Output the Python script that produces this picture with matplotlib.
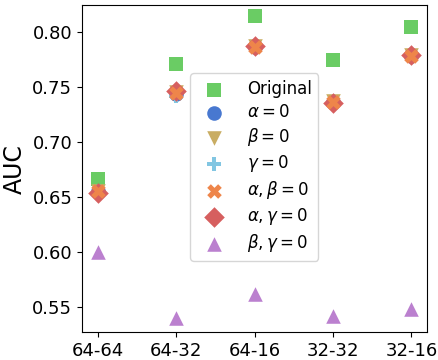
import numpy as np
import matplotlib.pyplot as plt

configs = ["64-64", "64-32", "64-16", "32-32", "32-16"]
labels = ["Original", r"$\alpha=0$", r"$\beta=0$", r"$\gamma=0$",
          r"$\alpha,\beta=0$", r"$\alpha,\gamma=0$", r"$\beta,\gamma=0$"]

original = [0.666, 0.771, 0.814, 0.774, 0.804]
alpha0 = [0.655, 0.743, 0.786, 0.736, 0.778]
beta0 = [0.655, 0.745, 0.787, 0.737, 0.779]
gamma0 = [0.654, 0.742, 0.786, 0.735, 0.778]
alpha_beta0 = [0.655, 0.744, 0.786, 0.736, 0.778]
alpha_gamma0 = [0.653, 0.746, 0.787, 0.735, 0.779]
beta_gamma0 = [0.600, 0.540, 0.561, 0.541, 0.548]

series = [original, alpha0, beta0, gamma0, alpha_beta0, alpha_gamma0, beta_gamma0]
markers = ["s", "o", "v", "P", "X", "D", "^"]
colors = ["#6acc64", "#4878d0", "#c9ad63", "#82c6e2", "#ee854a", "#d65f5f", "#bb80cf"]
# orange X mostly sits on top of the red diamonds
zorders = [2, 2, 2, 2, 3.5, 3, 2]

fig, ax = plt.subplots(figsize=(4.39, 3.6), dpi=100)
x = np.arange(len(configs))
for vals, m, c, lab, z in zip(series, markers, colors, labels, zorders):
    ax.scatter(x, vals, marker=m, color=c, s=110, label=lab, linewidths=0, zorder=z)

ax.set_xticks(x)
ax.set_xticklabels(configs)
ax.set_xlim(-0.2, 4.2)
ax.set_ylim(0.5266, 0.8243)
ax.set_yticks([0.55, 0.60, 0.65, 0.70, 0.75, 0.80])
ax.tick_params(labelsize=13)
ax.set_ylabel("AUC", fontsize=17)
h, l = ax.get_legend_handles_labels()
ax.legend(h, l, fontsize=12, loc="center", bbox_to_anchor=(0.499, 0.505),
          labelspacing=0.3, handletextpad=1.0)
plt.subplots_adjust(left=0.187, right=0.973, top=0.986, bottom=0.077)
plt.savefig("out.png")
